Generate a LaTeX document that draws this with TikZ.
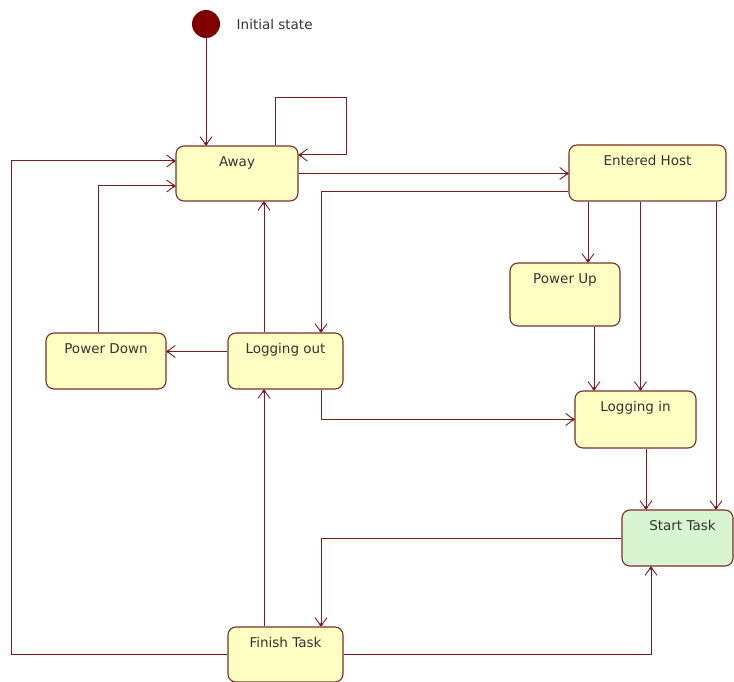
\documentclass[tikz,border=0pt]{standalone}
\usepackage{fontspec}
\setmainfont{DejaVu Sans}
\usetikzlibrary{arrows.meta}
\definecolor{wire}{RGB}{125,28,28}
\definecolor{rim}{RGB}{125,45,40}
\definecolor{statefill}{RGB}{255,255,196}
\definecolor{taskfill}{RGB}{214,245,208}
\definecolor{startdot}{RGB}{128,0,0}
\begin{document}
\begin{tikzpicture}[x=1pt,y=-1pt,
  state/.style={draw=rim,fill=statefill,line width=1.1pt,rounded corners=8pt,inner sep=0pt},
  caption/.style={font=\fontsize{13.5}{15}\selectfont,text=black!80},
  trans/.style={draw=wire,line width=1pt,
    -{Straight Barb[length=8pt,width=12pt,line width=0.9pt,sep=-3.4pt]Circle[length=3.4pt]}}]
\useasboundingbox (0,0) rectangle (734,682);

% initial pseudo-state
\node[circle,fill=startdot,minimum size=28pt,inner sep=0pt] (init) at (206,24) {};
\node[caption,anchor=west] (initlabel) at ([xshift=13pt]init.east) {Initial state};

% states
\node[state,minimum width=122pt,minimum height=55pt,
  label={[caption,anchor=base,yshift=-21pt]north:Away}] (away) at (237,173.5) {};
\node[state,minimum width=157pt,minimum height=56pt,
  label={[caption,anchor=base,yshift=-21pt]north:Entered Host}] (eh) at (647.5,173) {};
\node[state,minimum width=110pt,minimum height=63pt,
  label={[caption,anchor=base,yshift=-21pt]north:Power Up}] (pu) at (565,294.5) {};
\node[state,minimum width=120pt,minimum height=56pt,
  label={[caption,anchor=base,yshift=-21pt]north:Power Down}] (pd) at (106,361) {};
\node[state,minimum width=115pt,minimum height=56pt,
  label={[caption,anchor=base,yshift=-21pt]north:Logging out}] (lo) at (285.5,361) {};
\node[state,minimum width=121pt,minimum height=57pt,
  label={[caption,anchor=base,yshift=-21pt]north:Logging in}] (li) at (635.5,419.5) {};
\node[state,fill=taskfill,minimum width=111pt,minimum height=56pt,
  label={[caption,anchor=base,yshift=-21pt,xshift=5pt]north:Start Task}] (st) at (677.5,538) {};
\node[state,minimum width=115pt,minimum height=55pt,
  label={[caption,anchor=base,yshift=-21pt]north:Finish Task}] (ft) at (285.5,654.5) {};

% attachment points on the state borders
\coordinate (puIn) at ([xshift=23pt]pu.north);
\coordinate (liInA) at ([xshift=-41.5pt]li.north);
\coordinate (liInB) at ([xshift=5pt]li.north);
\coordinate (stInA) at ([xshift=-31.5pt]st.north);
\coordinate (stInB) at ([xshift=38.5pt]st.north);
\coordinate (loLeft) at ([xshift=-21.5pt]lo.north);

% transitions
\draw[trans] (init) -- (init |- away.north);
\draw[trans] ([xshift=38pt]away.north) -- ++(0,-48) -- ++(71,0) |- ([yshift=18.5pt]away.east);
\draw[trans] (away.east) -- (away.east -| eh.west);
\draw[trans] ([yshift=-19pt]eh.west) -| ([xshift=35.5pt]lo.north);
\draw[trans] (puIn |- eh.south) -- (puIn);
\draw[trans] (liInB |- eh.south) -- (liInB);
\draw[trans] (stInB |- eh.south) -- (stInB);
\draw[trans] (liInA |- pu.south) -- (liInA);
\draw[trans] ([xshift=35.5pt]lo.south) |- (li.west);
\draw[trans] ([yshift=9.5pt]lo.west) -- ([yshift=9.5pt]pd.east);
\draw[trans] (loLeft) -- (loLeft |- away.south);
\draw[trans] ([xshift=-8pt]pd.north) |- ([yshift=-12.5pt]away.west);
\draw[trans] (ft.west) -- ++(-216,0) |- ([yshift=12.5pt]away.west);
\draw[trans] ([xshift=-21.5pt]ft.north) -- ([xshift=-21.5pt]lo.south);
\draw[trans] (ft.east) -| ([xshift=-26.5pt]st.south);
\draw[trans] (st.west) -| ([xshift=35.5pt]ft.north);
\draw[trans] (stInA |- li.south) -- (stInA);
\end{tikzpicture}
\end{document}
